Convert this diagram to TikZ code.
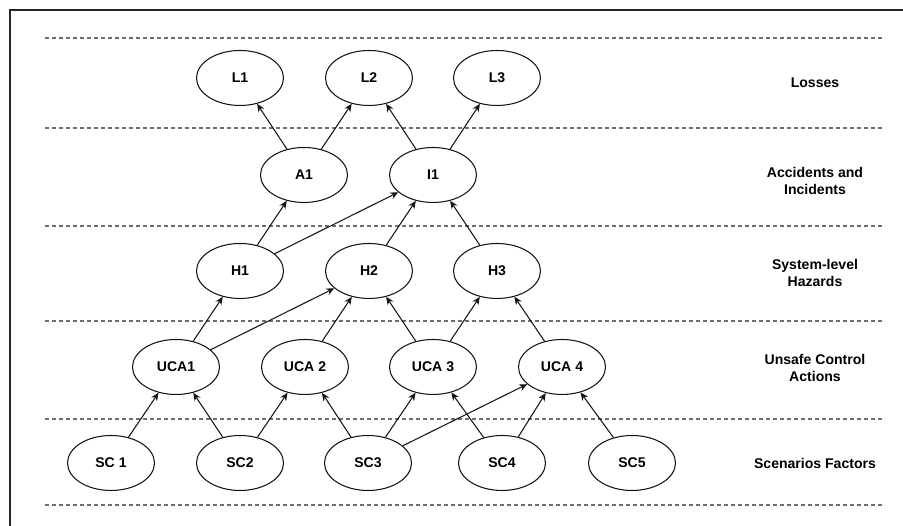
\documentclass[tikz,border=0pt]{standalone}
\usepackage{fontspec}
\setmainfont{Liberation Sans}
\usepackage{xcolor}
\usepackage{tikz}
\usetikzlibrary{shapes.geometric,arrows.meta,positioning}
\definecolor{layergray}{RGB}{110,110,110}
\definecolor{edgeblack}{RGB}{20,20,20}

\begin{document}
\begin{tikzpicture}[
evt/.style={draw=edgeblack, ellipse, line width=0.6pt, fill=white,
minimum width=1.74cm, minimum height=1.1cm, inner sep=0pt,
font=\fontsize{8}{10}\selectfont\bfseries},
lvl/.style={align=center, font=\fontsize{8}{10.2}\selectfont\bfseries},
layer/.style={dashed, draw=layergray, line width=0.6pt, dash pattern=on 0.08cm off 0.06cm},
arrow/.style={-{Stealth[length=1.6mm, width=1.4mm]}, line width=0.6pt, draw=edgeblack}
]
\useasboundingbox (0,0) rectangle (18.06,10.52);

% frame
\draw[line width=0.04cm, draw=black!85] (0.2,0) -- (0.2,10.32) -- (18.06,10.32);

% layer separators
\draw[layer] (0.9,9.76) -- (17.7,9.76);
\draw[layer] (0.9,7.96) -- (17.7,7.96);
\draw[layer] (0.9,6.00) -- (17.7,6.00);
\draw[layer] (0.9,4.10) -- (17.7,4.10);
\draw[layer] (0.9,2.14) -- (17.7,2.14);
\draw[layer] (0.9,0.42) -- (17.7,0.42);

\node[evt] (l1) at (4.80,8.96) {L1};
\node[evt] (l2) at (7.38,8.96) {L2};
\node[evt] (l3) at (9.94,8.96) {L3};

\node[evt] (a1) at (6.08,7.02) {A1};
\node[evt] (i1) at (8.66,7.02) {I1};

\node[evt] (h1) at (4.80,5.10) {H1};
\node[evt] (h2) at (7.38,5.10) {H2};
\node[evt] (h3) at (9.94,5.10) {H3};

\node[evt] (uca1) at (3.52,3.18) {UCA1};
\node[evt] (uca2) at (6.10,3.18) {UCA 2};
\node[evt] (uca3) at (8.66,3.18) {UCA 3};
\node[evt] (uca4) at (11.24,3.18) {UCA 4};

\node[evt] (sc1) at (2.22,1.26) {SC 1};
\node[evt] (sc2) at (4.80,1.26) {SC2};
\node[evt] (sc3) at (7.36,1.26) {SC3};
\node[evt] (sc4) at (10.04,1.26) {SC4};
\node[evt] (sc5) at (12.64,1.26) {SC5};

% layer names
\node[lvl] (nl) at (16.3,8.86) {Losses};
\node[lvl] (na) at (16.3,6.90) {Accidents and\\Incidents};
\node[lvl] (nh) at (16.3,5.06) {System-level\\Hazards};
\node[lvl] (nu) at (16.3,3.16) {Unsafe Control\\Actions};
\node[lvl] (ns) at (16.3,1.26) {Scenarios Factors};

\draw[arrow] (a1) -- (l1);
\draw[arrow] (a1) -- (l2);
\draw[arrow] (i1) -- (l2);
\draw[arrow] (i1) -- (l3);

\draw[arrow] (h1) -- (a1);
\draw[arrow] (h1) -- (i1);
\draw[arrow] (h2) -- (i1);
\draw[arrow] (h3) -- (i1);

\draw[arrow] (uca1) -- (h1);
\draw[arrow] (uca1) -- (h2);
\draw[arrow] (uca2) -- (h2);
\draw[arrow] (uca3) -- (h2);
\draw[arrow] (uca3) -- (h3);
\draw[arrow] (uca4) -- (h3);

\draw[arrow] (sc1) -- (uca1);
\draw[arrow] (sc2) -- (uca1);
\draw[arrow] (sc2) -- (uca2);
\draw[arrow] (sc3) -- (uca2);
\draw[arrow] (sc3) -- (uca3);
\draw[arrow] (sc3) -- (uca4);
\draw[arrow] (sc4) -- (uca3);
\draw[arrow] (sc4) -- (uca4);
\draw[arrow] (sc5) -- (uca4);

\end{tikzpicture}
\end{document}
